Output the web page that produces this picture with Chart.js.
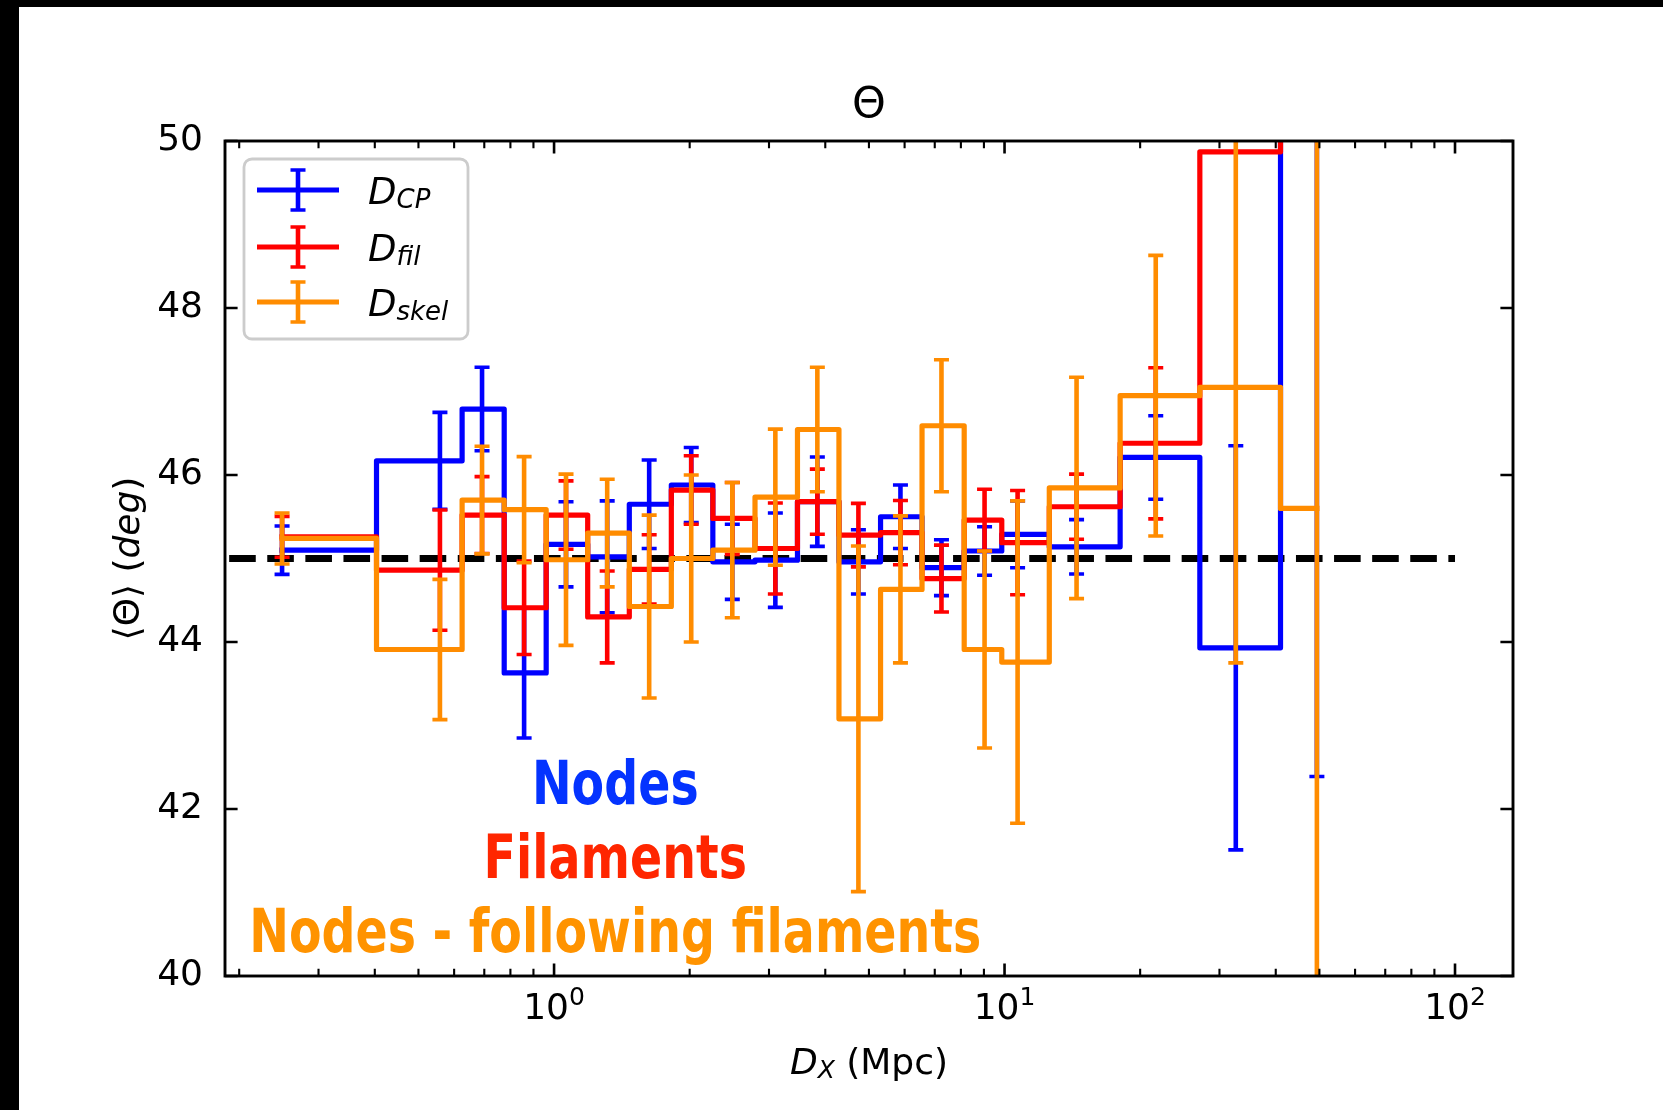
<!DOCTYPE html>
<html>
<head>
<meta charset="utf-8">
<title>Theta vs distance</title>
<script src="https://cdn.jsdelivr.net/npm/chart.js@4.4.1/dist/chart.umd.min.js"></script>
<style>
    html, body { margin: 0; padding: 0; background: #fff; }
    canvas { display: block; }
</style>
</head>
<body>
<canvas id="thetaChart" width="1663" height="1110"></canvas>
<script>
'use strict';

// bin centres, D_X in Mpc
var distances = [0.249, 0.558, 0.692, 0.858, 1.063, 1.312, 1.626, 2.016, 2.487, 3.099,
                 3.841, 4.738, 5.874, 7.244, 9.029, 10.69, 14.45, 21.66, 32.61, 49.36];

// <Theta> (deg) and 1-sigma errors for each distance definition
var thetaCP   = [45.10, 46.17, 46.79, 43.63, 45.17, 45.02, 45.65, 45.88, 44.96, 44.98,
                 45.68, 44.96, 45.50, 44.89, 45.09, 45.29, 45.14, 46.21, 43.93, 52.0];
var errCP     = [0.29, 0.58, 0.50, 0.78, 0.51, 0.67, 0.53, 0.45, 0.45, 0.565,
                 0.535, 0.385, 0.38, 0.335, 0.29, 0.40, 0.325, 0.50, 2.42, 9.61];

var thetaFil  = [45.26, 44.86, 45.52, 44.41, 45.52, 44.30, 44.87, 45.82, 45.48, 45.12,
                 45.68, 45.28, 45.31, 44.76, 45.46, 45.19, 45.62, 46.38, 49.87, 52.0];
var errFil    = [0.245, 0.72, 0.46, 0.56, 0.41, 0.55, 0.415, 0.41, 0.43, 0.545,
                 0.39, 0.38, 0.385, 0.40, 0.37, 0.625, 0.39, 0.905, null, null];

var thetaSkel = [45.24, 43.91, 45.70, 45.585, 44.985, 45.305, 44.425, 45.00, 45.10, 45.735,
                 46.545, 43.08, 44.63, 46.59, 43.91, 43.76, 45.845, 46.95, 47.05, 45.60];
var errSkel   = [0.305, 0.84, 0.645, 0.635, 1.025, 0.645, 1.095, 1.0, 0.81, 0.815,
                 0.745, 2.07, 0.88, 0.79, 1.18, 1.93, 1.325, 1.68, 3.3, 8.0];

// isotropic reference line
var refLineX = [0.19, 100];
var refLineY = [45, 45];

var yTicks = [40, 42, 44, 46, 48, 50];
var xMajorTicks = [1, 10, 100];
var xMajorLabels = [['10', '0'], ['10', '1'], ['10', '2']];
var xMinorTicks = [0.2, 0.3, 0.4, 0.5, 0.6, 0.7, 0.8, 0.9, 2, 3, 4, 5, 6, 7, 8, 9,
                   20, 30, 40, 50, 60, 70, 80, 90];

var seriesLabels = [['D', 'CP'], ['D', 'fil'], ['D', 'skel']];
var annotationTexts = ['Nodes', 'Filaments', 'Nodes - following filaments'];

var colors = {
    cp: '#0000ff',
    fil: '#ff0000',
    skel: '#ff8c00',
    axis: '#000000'
};
var textColors = ['#0433ff', '#ff2600', '#ff9300'];
var fontFamily = "'DejaVu Sans', sans-serif";
var boldCondensed = "'DejaVu Sans Condensed', 'Liberation Sans Narrow', 'DejaVu Sans', sans-serif";

// matplotlib-like steps-mid: the step happens at the linear midpoint between centres
function stepMid(xs, ys) {
    var pts = [];
    for (var i = 0; i < xs.length; i++) {
        var left = i === 0 ? xs[0] : (xs[i - 1] + xs[i]) / 2;
        var right = i === xs.length - 1 ? xs[i] : (xs[i] + xs[i + 1]) / 2;
        pts.push({ x: left, y: ys[i] }, { x: right, y: ys[i] });
    }
    return pts;
}

function fontOf(r) {
    return (r.italic ? 'italic ' : '') + (r.bold ? 'bold ' : '') + r.size + 'px ' + (r.family || fontFamily);
}

// draw a run of text pieces (for subscripts / superscripts / italics)
function drawRuns(ctx, runs, x, y, align) {
    var total = 0;
    runs.forEach(function(r) {
        ctx.font = fontOf(r);
        r.w = ctx.measureText(r.text).width;
        total += r.w;
    });
    var cx = align === 'center' ? x - total / 2 : x;
    ctx.textAlign = 'left';
    ctx.textBaseline = 'alphabetic';
    runs.forEach(function(r) {
        ctx.font = fontOf(r);
        ctx.fillText(r.text, cx, y + (r.dy || 0));
        cx += r.w;
    });
}

function makeSeries(label, color, xs, ys, errs, order) {
    return {
        label: label,
        data: stepMid(xs, ys),
        borderColor: color,
        borderWidth: 5.2,
        borderJoinStyle: 'round',
        borderCapStyle: 'square',
        pointRadius: 0,
        tension: 0,
        fill: false,
        clip: 0,
        order: order,
        centers: xs,
        values: ys,
        errors: errs
    };
}

var thetaPlugin = {
    id: 'thetaDecor',
    beforeDraw: function(chart) {
        var ctx = chart.ctx;
        ctx.save();
        ctx.fillStyle = '#ffffff';
        ctx.fillRect(0, 0, chart.width, chart.height);
        // dark frame left over from the screenshot
        ctx.fillStyle = '#000000';
        ctx.fillRect(0, 0, 19, chart.height);
        ctx.fillRect(0, 0, chart.width, 7);
        ctx.restore();
    },
    afterDatasetDraw: function(chart, args) {
        var ds = chart.data.datasets[args.index];
        if (!ds.errors) return;
        var ctx = chart.ctx;
        var a = chart.chartArea;
        var xs = chart.scales.x, ys = chart.scales.y;
        ctx.save();
        ctx.beginPath();
        ctx.rect(a.left, a.top, a.right - a.left, a.bottom - a.top);
        ctx.clip();
        ctx.strokeStyle = ds.borderColor;
        ctx.lineCap = 'butt';
        for (var i = 0; i < ds.centers.length; i++) {
            var e = ds.errors[i];
            if (e === null) continue;
            var px = xs.getPixelForValue(ds.centers[i]);
            var lo = ys.getPixelForValue(ds.values[i] - e);
            var hi = ys.getPixelForValue(ds.values[i] + e);
            ctx.lineWidth = 4.6;
            ctx.beginPath();
            ctx.moveTo(px, lo);
            ctx.lineTo(px, hi);
            ctx.stroke();
            ctx.lineWidth = 3.6;
            ctx.beginPath();
            ctx.moveTo(px - 7.5, lo); ctx.lineTo(px + 7.5, lo);
            ctx.moveTo(px - 7.5, hi); ctx.lineTo(px + 7.5, hi);
            ctx.stroke();
        }
        ctx.restore();
    },
    afterDatasetsDraw: function(chart) {
        var ctx = chart.ctx;
        var a = chart.chartArea;
        var xs = chart.scales.x, ys = chart.scales.y;
        ctx.save();

        // frame
        ctx.strokeStyle = colors.axis;
        ctx.lineWidth = 2.9;
        ctx.strokeRect(a.left, a.top, a.right - a.left, a.bottom - a.top);

        // inward ticks on all four sides
        ctx.lineCap = 'butt';
        ctx.lineWidth = 2.6;
        ctx.beginPath();
        yTicks.forEach(function(v) {
            var py = ys.getPixelForValue(v);
            ctx.moveTo(a.left, py); ctx.lineTo(a.left + 12.6, py);
            ctx.moveTo(a.right, py); ctx.lineTo(a.right - 12.6, py);
        });
        xMajorTicks.forEach(function(v) {
            var px = xs.getPixelForValue(v);
            ctx.moveTo(px, a.bottom); ctx.lineTo(px, a.bottom - 12.6);
            ctx.moveTo(px, a.top); ctx.lineTo(px, a.top + 12.6);
        });
        ctx.stroke();
        ctx.lineWidth = 2.1;
        ctx.beginPath();
        xMinorTicks.forEach(function(v) {
            var px = xs.getPixelForValue(v);
            ctx.moveTo(px, a.bottom); ctx.lineTo(px, a.bottom - 7.2);
            ctx.moveTo(px, a.top); ctx.lineTo(px, a.top + 7.2);
        });
        ctx.stroke();

        // x tick labels 10^n
        ctx.fillStyle = '#000000';
        xMajorTicks.forEach(function(v, i) {
            var px = xs.getPixelForValue(v);
            drawRuns(ctx, [
                { text: xMajorLabels[i][0], size: 36 },
                { text: xMajorLabels[i][1], size: 25, dy: -14 }
            ], px, a.bottom + 43, 'center');
        });

        // axis titles
        drawRuns(ctx, [
            { text: 'D', size: 36, italic: true },
            { text: 'X', size: 25, italic: true, dy: 3.5 },
            { text: ' (Mpc)', size: 36 }
        ], (a.left + a.right) / 2, a.bottom + 98, 'center');

        ctx.save();
        ctx.translate(139, (a.top + a.bottom) / 2);
        ctx.rotate(-Math.PI / 2);
        drawRuns(ctx, [
            { text: '\u27E8\u0398\u27E9 (', size: 36 },
            { text: 'deg', size: 36, italic: true },
            { text: ')', size: 36 }
        ], 0, 0, 'center');
        ctx.restore();

        // title
        drawRuns(ctx, [{ text: '\u0398', size: 43 }], (a.left + a.right) / 2, a.top - 24, 'center');

        // coloured annotations (bold condensed)
        var w = a.right - a.left, h = a.bottom - a.top;
        var ax = a.left + 0.303 * w;
        var baselines = [0.794, 0.8826, 0.9713];
        ctx.font = 'bold 61px ' + boldCondensed;
        var squeeze = 732 / ctx.measureText(annotationTexts[2]).width;
        annotationTexts.forEach(function(t, i) {
            ctx.save();
            ctx.translate(ax, a.top + baselines[i] * h);
            ctx.scale(squeeze, 1);
            ctx.font = 'bold 61px ' + boldCondensed;
            ctx.fillStyle = textColors[i];
            ctx.textAlign = 'center';
            ctx.textBaseline = 'alphabetic';
            ctx.fillText(t, 0, 0);
            ctx.restore();
        });

        // legend
        var lx = 244, ly = 159, lw = 224, lh = 180, r = 8;
        ctx.beginPath();
        ctx.moveTo(lx + r, ly);
        ctx.arcTo(lx + lw, ly, lx + lw, ly + lh, r);
        ctx.arcTo(lx + lw, ly + lh, lx, ly + lh, r);
        ctx.arcTo(lx, ly + lh, lx, ly, r);
        ctx.arcTo(lx, ly, lx + lw, ly, r);
        ctx.closePath();
        ctx.fillStyle = 'rgba(255,255,255,0.8)';
        ctx.fill();
        ctx.strokeStyle = '#cccccc';
        ctx.lineWidth = 2.8;
        ctx.stroke();

        var rows = [190, 247, 302];
        var legendSets = chart.data.datasets.filter(function(d) { return d.errors; });
        legendSets.forEach(function(d, i) {
            var ry = rows[i];
            ctx.strokeStyle = d.borderColor;
            ctx.lineWidth = 5.2;
            ctx.lineCap = 'butt';
            ctx.beginPath();
            ctx.moveTo(257, ry); ctx.lineTo(339, ry);
            ctx.stroke();
            ctx.lineWidth = 4.6;
            ctx.beginPath();
            ctx.moveTo(298, ry - 20); ctx.lineTo(298, ry + 20);
            ctx.stroke();
            ctx.lineWidth = 3.6;
            ctx.beginPath();
            ctx.moveTo(290.5, ry - 20); ctx.lineTo(305.5, ry - 20);
            ctx.moveTo(290.5, ry + 20); ctx.lineTo(305.5, ry + 20);
            ctx.stroke();
            ctx.fillStyle = '#000000';
            drawRuns(ctx, [
                { text: seriesLabels[i][0], size: 37, italic: true },
                { text: seriesLabels[i][1], size: 26, italic: true, dy: 4 }
            ], 368, ry + 14, 'left');
        });

        ctx.restore();
    }
};

var ctx = document.getElementById('thetaChart').getContext('2d');
new Chart(ctx, {
    type: 'line',
    data: {
        datasets: [
            makeSeries('D_CP', colors.cp, distances, thetaCP, errCP, 3),
            makeSeries('D_fil', colors.fil, distances, thetaFil, errFil, 2),
            makeSeries('D_skel', colors.skel, distances, thetaSkel, errSkel, 1),
            {
                label: 'isotropic',
                data: refLineX.map(function(x, i) { return { x: x, y: refLineY[i] }; }),
                borderColor: '#000000',
                borderWidth: 7.2,
                borderDash: [26.6, 11.5],
                borderCapStyle: 'butt',
                pointRadius: 0,
                fill: false,
                clip: 0,
                order: 4
            }
        ]
    },
    options: {
        responsive: false,
        animation: false,
        devicePixelRatio: 1,
        layout: {
            padding: { left: 0, top: 141, right: 150, bottom: 0 }
        },
        scales: {
            x: {
                type: 'logarithmic',
                min: 0.186,
                max: 134.5,
                grid: { display: false },
                border: { display: false },
                ticks: { display: false },
                afterFit: function(scale) { scale.height = 134; }
            },
            y: {
                type: 'linear',
                min: 40,
                max: 50,
                grid: { display: false },
                border: { display: false },
                ticks: {
                    stepSize: 2,
                    padding: 14,
                    color: '#000000',
                    font: { family: fontFamily, size: 36 }
                },
                afterFit: function(scale) { scale.width = 225; }
            }
        },
        plugins: {
            legend: { display: false },
            tooltip: { enabled: false },
            title: { display: false }
        }
    },
    plugins: [thetaPlugin]
});
</script>
</body>
</html>
